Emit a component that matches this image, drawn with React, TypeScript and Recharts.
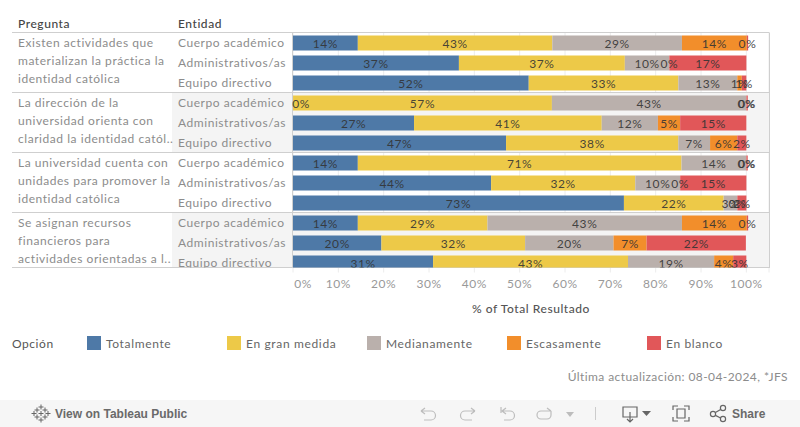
import React from "react";
import { BarChart, Bar, XAxis, YAxis, CartesianGrid, LabelList, Customized, Rectangle } from "recharts";

const FONT = "Lato, 'Noto Sans', sans-serif";

const questions = [
  ["Existen actividades que", "materializan la práctica la", "identidad católica"],
  ["La dirección de la", "universidad orienta con", "claridad la identidad catól.."],
  ["La universidad cuenta con", "unidades para promover la", "identidad católica"],
  ["Se asignan recursos", "financieros para", "actividades orientadas a l.."],
];
const entities = ["Cuerpo académico", "Administrativos/as", "Equipo directivo"];
const seriesNames = ["Totalmente", "En gran medida", "Medianamente", "Escasamente", "En blanco"];
const seriesColors = ["#4e79a7", "#edc948", "#bab0ac", "#f28e2b", "#e15759"];

const totalmente = [14.3, 36.6, 52, 0.01, 26.7, 47, 14.3, 43.7, 73, 14.3, 19.5, 30.9];
const granMedida = [42.9, 36.6, 33, 57.1, 41.4, 38, 71.4, 31.8, 22, 28.6, 31.7, 43];
const medianamente = [28.6, 9.8, 13, 42.9, 12.4, 7, 14.3, 9.9, 3, 42.9, 19.5, 19];
const escasamente = [14.3, 0.01, 1, 0.01, 4.9, 6, 0.01, 0.01, 0.01, 14.3, 7.3, 4.2];
const enBlanco = [0.3, 17, 1, 0.3, 14.6, 2, 0.3, 14.6, 2, 0.3, 21.9, 2.9];
const xTicks = [0, 10, 20, 30, 40, 50, 60, 70, 80, 90, 100];

const seriesValues = [totalmente, granMedida, medianamente, escasamente, enBlanco];
const rows = totalmente.map((_, i) => {
  const row: any = { id: i, entidad: entities[i % 3] };
  seriesNames.forEach((n, s) => (row[n] = seriesValues[s][i]));
  return row;
});

const GREY_LINE = "#cfcfcf";
const LEFT = 293;
const RIGHT = 769;
const TOP = 32.5;
const seps = [32.5, 92.5, 152.5, 212.5, 267.5];
const CLIP = "url(#tableClip)";

const Background = () => (
  <g>
    <defs>
      <clipPath id="tableClip">
        <rect x={0} y={0} width={800} height={267.5} />
      </clipPath>
    </defs>
    <rect x={172} y={92.5} width={RIGHT - 172} height={60} fill="#f4f4f4" />
    <rect x={172} y={212.5} width={RIGHT - 172} height={55} fill="#f4f4f4" />
  </g>
);

const Frame = () => (
  <g>
    {seps.map((y) => (
      <line key={y} x1={12} x2={RIGHT} y1={y} y2={y} stroke={GREY_LINE} />
    ))}
    <line x1={LEFT - 0.5} x2={LEFT - 0.5} y1={TOP} y2={268} stroke={GREY_LINE} />
    <line x1={RIGHT + 0.5} x2={RIGHT + 0.5} y1={TOP} y2={268} stroke={GREY_LINE} />
  </g>
);

const txt = { fontFamily: FONT, fontSize: 12, letterSpacing: 0.55 };

const Texts = () => (
  <g style={txt as any}>
    <text x={18} y={28} fill="#444" fontWeight={500}>Pregunta</text>
    <text x={178} y={28} fill="#444" fontWeight={500}>Entidad</text>
    {questions.map((q, i) =>
      q.map((line, j) => (
        <text key={i + "-" + j} x={18} y={47 + i * 60 + j * 18} fill="#8c8c8c">{line}</text>
      ))
    )}
    <text x={12} y={348} fill="#555">Opción</text>
    {seriesNames.map((n, i) => (
      <g key={n}>
        <rect x={87 + i * 140} y={336} width={14} height={14} fill={seriesColors[i]} />
        <text x={106 + i * 140} y={348} fill="#666" style={{ letterSpacing: 0.65 }}>{n}</text>
      </g>
    ))}
    <text x={788} y={381} textAnchor="end" fill="#8c8c8c" style={{ letterSpacing: 0.42 }}>Última actualización: 08-04-2024, *JFS</text>
  </g>
);

const Toolbar = () => {
  const ic = { fill: "none", stroke: "#bdbdbd", strokeWidth: 1.2 };
  const dk = { fill: "none", stroke: "#666", strokeWidth: 1.2 };
  const plus = [[41, 407], [41, 420], [34, 413.5], [48, 413.5], [37, 410], [45, 410], [37, 417], [45, 417], [41, 413.5]];
  return (
    <g>
      <rect x={0} y={400} width={800} height={27} fill="#f6f6f6" />
      {plus.map(([x, y], i) => (
        <path key={i} d={`M${x - 2.5} ${y}H${x + 2.5}M${x} ${y - 2.5}V${y + 2.5}`} stroke="#666" strokeWidth={1} />
      ))}
      <text x={55} y={418} fontFamily="'Liberation Sans', Arial, sans-serif" fontSize={12} fontWeight={700} fill="#6a6a6a">View on Tableau Public</text>
      <path d="M421 411H431a4.5 4.5 0 0 1 0 9H424M421 411l4-3M421 411l4 3" {...ic} />
      <path d="M475 411H465a4.5 4.5 0 0 0 0 9H472M475 411l-4-3M475 411l-4 3" {...ic} />
      <path d="M501 407V413M501 411H510a4.5 4.5 0 0 1 0 9H504M502 411l4-3M502 411l4 3" {...ic} />
      <path d="M551 411H541a4 4 0 0 0 0 8H547a4 4 0 0 0 4-4V411M551 411l-4-3" {...ic} />
      <path d="M566 412h8l-4 5z" fill="#bdbdbd" />
      <line x1={595.5} x2={595.5} y1={407} y2={420} stroke="#ccc" />
      <path d="M623 407H637V417H623ZM630 412V421M627 419l3 3 3-3" {...dk} />
      <path d="M642 411h9l-4.5 5z" fill="#666" />
      <path d="M673 410V406H678M684 406H689V410M689 417V421H684M678 421H673V417M677 409H685V418H677Z" {...dk} />
      <circle cx={713} cy={414} r={2.6} {...dk} />
      <circle cx={723} cy={408} r={2.6} {...dk} />
      <circle cx={723} cy={419} r={2.6} {...dk} />
      <path d="M715.4 412.6L720.6 409.4M715.4 415.4L720.6 418" {...dk} />
      <text x={732} y={418} fontFamily="'Liberation Sans', Arial, sans-serif" fontSize={12} fontWeight={700} fill="#6a6a6a">Share</text>
    </g>
  );
};

const BarShape = (props: any) => <Rectangle {...props} clipPath={CLIP} />;

const BarLabel = (props: any) => {
  const { x, y, width, height, value } = props;
  const cx = Math.max(x + width / 2, LEFT + 8);
  return (
    <text x={cx} y={y + height / 2 + 4.5} textAnchor="middle" fill="#333" fillOpacity={0.9} clipPath={CLIP} style={txt as any}>
      {Math.round(value)}%
    </text>
  );
};

const EntityTick = (props: any) => (
  <text x={178} y={props.y + 4.5} fill="#8c8c8c" clipPath={CLIP} style={txt as any}>
    {rows[props.payload.value].entidad}
  </text>
);

const XTick = (props: any) => {
  const v = props.payload.value;
  return (
    <text x={v === 0 ? props.x + 10 : props.x} y={288} textAnchor="middle" fill="#999" style={txt as any}>
      {v}%
    </text>
  );
};

export default function App() {
  return (
    <div style={{ position: "fixed", left: 0, top: 0, width: 800, height: 427, background: "#fff" }}>
      <BarChart
        width={800}
        height={427}
        data={rows}
        layout="vertical"
        barSize={15}
        margin={{ top: TOP, right: 800 - RIGHT, bottom: 104.5, left: 0 }}
      >
        <Customized component={Background} />
        <CartesianGrid horizontal={false} vertical stroke="#ececec" />
        <YAxis type="category" dataKey="id" width={LEFT} axisLine={false} tickLine={false} interval={0} tick={EntityTick} />
        {seriesNames.map((n, i) => (
          <Bar key={n} dataKey={n} stackId="a" fill={seriesColors[i]} isAnimationActive={false} shape={BarShape}>
            <LabelList dataKey={n} content={BarLabel} />
          </Bar>
        ))}
        <Customized component={Frame} />
        <Customized component={Texts} />
        <Customized component={Toolbar} />
        <XAxis
          type="number"
          domain={[0, 105]}
          ticks={xTicks}
          height={50}
          axisLine={false}
          tickLine={false}
          tick={XTick}
          label={{ value: "% of Total Resultado", position: "insideTop", offset: 32, fill: "#555", fontFamily: FONT, fontSize: 12, fontWeight: 500, letterSpacing: 0.55 }}
        />
      </BarChart>
    </div>
  );
}
